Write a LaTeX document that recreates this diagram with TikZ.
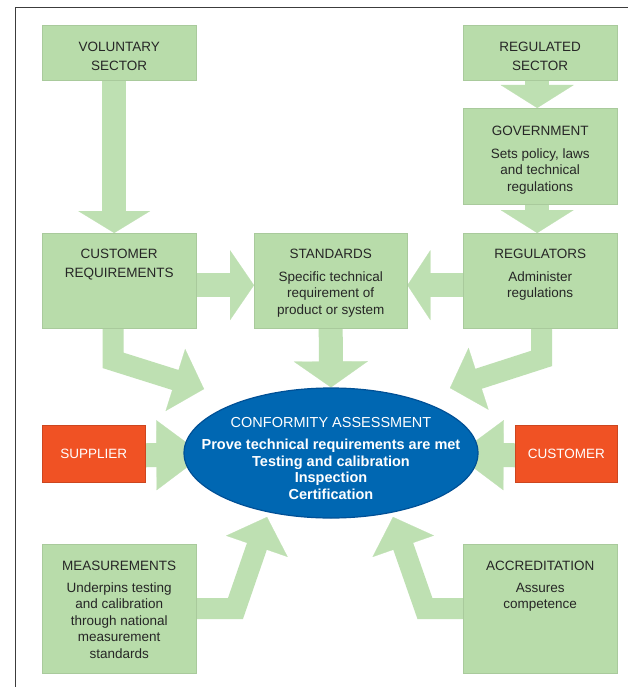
\documentclass[tikz,border=0pt]{standalone}
\usepackage{fontspec}
\setmainfont{Liberation Sans}
\usetikzlibrary{arrows.meta,calc,shapes.geometric}
\definecolor{boxgreen}{RGB}{184,220,170}
\definecolor{arrowgreen}{RGB}{190,224,178}
\definecolor{txtdark}{RGB}{38,38,38}
\definecolor{supporange}{RGB}{240,82,36}
\definecolor{ellblue}{RGB}{0,103,178}
\definecolor{elledge}{RGB}{0,80,150}
\definecolor{framegray}{RGB}{60,60,60}
\pgfdeclarelayer{bg}
\pgfsetlayers{bg,main}
\begin{document}
\begin{tikzpicture}[x=1pt,y=-1pt,
  gbox/.style={rectangle, fill=boxgreen, draw=boxgreen!92!black, line width=0.4pt, inner sep=0pt, anchor=north west},
  obox/.style={rectangle, fill=supporange, draw=supporange!85!black, line width=0.5pt, inner sep=0pt, anchor=north west, text=white, font=\fontsize{13.5}{16}\selectfont},
  btext/.style={anchor=north, inner sep=0pt, align=center, text=txtdark, font=\fontsize{13.5}{16.5}\selectfont},
  shaft/.style={draw=arrowgreen, line width=24pt, line join=miter},
  thinshaft/.style={draw=arrowgreen, line width=21pt, line join=miter},
  headtip/.style 2 args={draw=arrowgreen, line width=0.2pt, -{Triangle[length=#1pt,width=#2pt]}}]
\useasboundingbox (0,0) rectangle (628,687);
% boxes
\node[gbox, minimum width=154pt, minimum height=55pt] (vol) at (42,25) {};
\node[btext] (volt) at ([yshift=-17pt]vol.north) {VOLUNTARY\\[2pt]SECTOR};
\node[gbox, minimum width=154pt, minimum height=55pt] (reg) at (463,25) {};
\node[btext] (regt) at ([yshift=-17pt]reg.north) {REGULATED\\[2pt]SECTOR};
\node[gbox, minimum width=154pt, minimum height=96pt] (gov) at (463,108) {};
\node[btext] (govt) at ([yshift=-18pt]gov.north) {GOVERNMENT\\[6pt]Sets policy, laws\\and technical\\regulations};
\node[gbox, minimum width=154pt, minimum height=95pt] (cr) at (42,233) {};
\node[btext] (crt) at ([yshift=-16pt]cr.north) {CUSTOMER\\[2pt]REQUIREMENTS};
\node[gbox, minimum width=153pt, minimum height=95pt] (std) at (254,233) {};
\node[btext] (stdt) at ([yshift=-16pt]std.north) {STANDARDS\\[6pt]Specific technical\\requirement of\\product or system};
\node[gbox, minimum width=154pt, minimum height=95pt] (rgl) at (463,233) {};
\node[btext] (rglt) at ([yshift=-16pt]rgl.north) {REGULATORS\\[6pt]Administer\\regulations};
\node[gbox, minimum width=154pt, minimum height=129pt] (meas) at (42,544) {};
\node[btext] (meast) at ([yshift=-17pt]meas.north) {MEASUREMENTS\\[5pt]Underpins testing\\and calibration\\through national\\measurement\\standards};
\node[gbox, minimum width=154pt, minimum height=129pt] (acc) at (463,544) {};
\node[btext] (acct) at ([yshift=-17pt]acc.north) {ACCREDITATION\\[5pt]Assures\\competence};
\node[obox, minimum width=103pt, minimum height=57pt] (sup) at (42,425) {SUPPLIER};
\node[obox, minimum width=102pt, minimum height=57pt] (cus) at (515,425) {CUSTOMER};
% ellipse
\node[ellipse, fill=ellblue, draw=elledge, line width=1.2pt, minimum width=294pt, minimum height=130pt, inner sep=0pt] (ell) at (331,453) {};
\node[anchor=north, inner sep=0pt, align=center, text=white, font=\fontsize{14.5}{16.5}\selectfont] (ellt) at ([yshift=-30pt]ell.north) {CONFORMITY ASSESSMENT\\[5.5pt]\textbf{Prove technical requirements are met}\\\textbf{Testing and calibration}\\\textbf{Inspection}\\\textbf{Certification}};
% coordinates
\coordinate (a1s) at ([xshift=-5pt]vol.south);
\coordinate (a1t) at ([xshift=-5pt]cr.north);
\coordinate (a2s) at ([xshift=-3pt]reg.south);
\coordinate (a2t) at ([xshift=-3pt]gov.north);
\coordinate (a3s) at ([xshift=-3pt]gov.south);
\coordinate (a3t) at ([xshift=-3pt]rgl.north);
\coordinate (a4s) at ([yshift=-4.5pt]cr.east);
\coordinate (a4t) at ([yshift=-4.5pt]std.west);
\coordinate (a5s) at ([yshift=-4.5pt]rgl.west);
\coordinate (a5t) at ([yshift=-4.5pt]std.east);
\coordinate (a6s) at (std.south);
\coordinate (a6t) at (ell.north);
\coordinate (a7s) at ([xshift=-6pt]cr.south);
\coordinate (a7c) at ([yshift=-32pt]a7s);
\coordinate (a7t) at (204,389);
\coordinate (a8s) at ([xshift=1.5pt]rgl.south);
\coordinate (a8c) at ([yshift=-30pt]a8s);
\coordinate (a8t) at (450,388);
\coordinate (a9s) at ([yshift=-1.5pt]sup.east);
\coordinate (a9t) at ([xshift=20pt,yshift=-2pt]ell.west);
\coordinate (a10s) at ([yshift=-1.5pt]cus.west);
\coordinate (a10t) at ([xshift=-22pt,yshift=-2pt]ell.east);
\coordinate (a11s) at (meas.east);
\coordinate (a11c) at ([xshift=39pt]meas.east);
\coordinate (a11t) at (267,517);
\coordinate (a12s) at (acc.west);
\coordinate (a12c) at ([xshift=-38pt]acc.west);
\coordinate (a12t) at (393,517);
\begin{pgfonlayer}{bg}
\fill[white] (0,0) rectangle (628,687);
% straight arrows
\draw[shaft] (a1s) -- ($(a1t)!20pt!(a1s)$);
\draw[headtip={22}{72}] ($(a1t)!22pt!(a1s)$) -- (a1t);
\draw[shaft] (a2s) -- ($(a2t)!21pt!(a2s)$);
\draw[headtip={23}{73}] ($(a2t)!23pt!(a2s)$) -- (a2t);
\draw[shaft] (a3s) -- ($(a3t)!21pt!(a3s)$);
\draw[headtip={23}{73}] ($(a3t)!23pt!(a3s)$) -- (a3t);
\draw[shaft] (a4s) -- ($(a4t)!22pt!(a4s)$);
\draw[headtip={24}{70}] ($(a4t)!24pt!(a4s)$) -- (a4t);
\draw[shaft] (a5s) -- ($(a5t)!21pt!(a5s)$);
\draw[headtip={23}{70}] ($(a5t)!23pt!(a5s)$) -- (a5t);
\draw[shaft] (a6s) -- ($(a6t)!24pt!(a6s)$);
\draw[headtip={26}{74}] ($(a6t)!26pt!(a6s)$) -- (a6t);
\draw[shaft] (a9s) -- ($(a9t)!45pt!(a9s)$);
\draw[headtip={47}{70}] ($(a9t)!47pt!(a9s)$) -- (a9t);
\draw[shaft] (a10s) -- ($(a10t)!45pt!(a10s)$);
\draw[headtip={47}{70}] ($(a10t)!47pt!(a10s)$) -- (a10t);
% bent arrows
\draw[thinshaft] (a7s) -- (a7c) -- ($(a7t)!28pt!(a7c)$);
\draw[headtip={30}{65}] ($(a7t)!30pt!(a7c)$) -- (a7t);
\draw[thinshaft] (a8s) -- (a8c) -- ($(a8t)!28pt!(a8c)$);
\draw[headtip={30}{65}] ($(a8t)!30pt!(a8c)$) -- (a8t);
\draw[thinshaft] (a11s) -- (a11c) -- ($(a11t)!29pt!(a11c)$);
\draw[headtip={31}{65}] ($(a11t)!31pt!(a11c)$) -- (a11t);
\draw[thinshaft] (a12s) -- (a12c) -- ($(a12t)!29pt!(a12c)$);
\draw[headtip={31}{65}] ($(a12t)!31pt!(a12c)$) -- (a12t);
\end{pgfonlayer}
% frame
\draw[framegray, line width=0.8pt] (15,687) -- (15,7) -- (628,7);
\end{tikzpicture}
\end{document}
